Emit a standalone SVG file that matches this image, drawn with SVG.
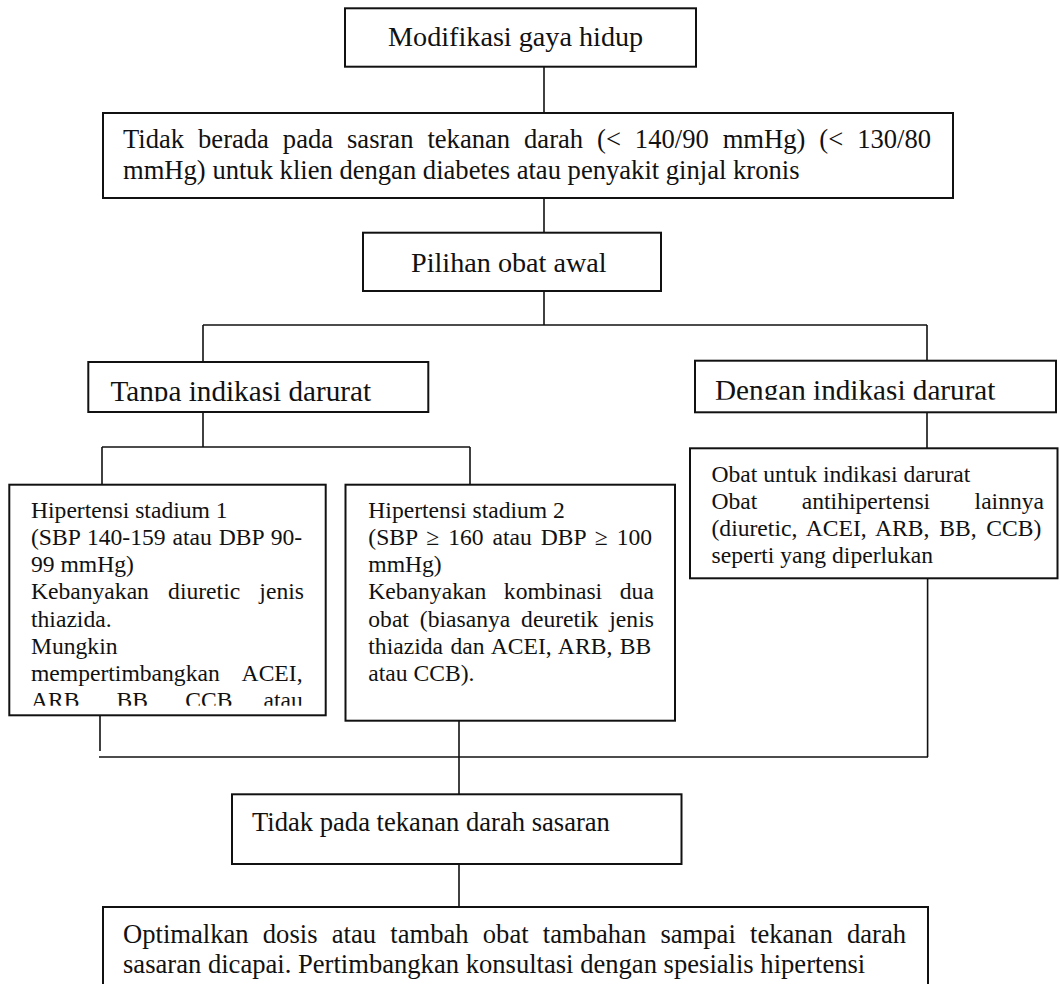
<svg xmlns="http://www.w3.org/2000/svg" width="1060" height="984" viewBox="0 0 1060 984">
<style>
.box{fill:none;stroke:#111;stroke-width:2}
.con{fill:none;stroke:#111;stroke-width:1.6}
text{font-family:"Liberation Serif","Times New Roman",serif;fill:#111}
.big{font-size:28.2px}
.mid{font-size:26.6px}
.hd{font-size:29.2px}
.sm{font-size:23.6px}
</style>
<defs>
<clipPath id="clipTanpa"><rect x="80" y="355" width="360" height="46.5"/></clipPath>
<clipPath id="clipDengan"><rect x="690" y="355" width="370" height="44.8"/></clipPath>
<clipPath id="clipS1"><rect x="0" y="480" width="330" height="225.8"/></clipPath>
</defs>
<rect width="1060" height="984" fill="#ffffff"/>
<g id="connectors">
<path class="con" d="M544 66 V113"/>
<path class="con" d="M544 198 V232.7"/>
<path class="con" d="M544 291 V325"/>
<path class="con" d="M203 325 H927"/>
<path class="con" d="M203 325 V362"/>
<path class="con" d="M927 325 V361"/>
<path class="con" d="M203 412 V447"/>
<path class="con" d="M102 447 H470"/>
<path class="con" d="M102 447 V484.7"/>
<path class="con" d="M470 447 V484.7"/>
<path class="con" d="M927 412.3 V448.3"/>
<path class="con" d="M100 715.3 V751"/>
<path class="con" d="M99 757 H928"/>
<path class="con" d="M927.6 578.3 V757"/>
<path class="con" d="M459 720 V794.3"/>
<path class="con" d="M459 864 V907"/>
</g>
<g id="n1">
<rect class="box" x="345" y="8.3" width="351" height="58.4"/>
<text class="big" x="388" y="46">Modifikasi gaya hidup</text>
</g>
<g id="n2">
<rect class="box" x="103" y="113" width="850" height="85"/>
<text class="mid" x="123" y="148" word-spacing="7.3">Tidak berada pada sasran tekanan darah (&lt; 140/90 mmHg) (&lt; 130/80</text>
<text class="mid" x="123" y="179">mmHg) untuk klien dengan diabetes atau penyakit ginjal kronis</text>
</g>
<g id="n3">
<rect class="box" x="363" y="232.7" width="298" height="58.3"/>
<text class="big" x="411" y="272">Pilihan obat awal</text>
</g>
<g id="n4">
<rect class="box" x="88.3" y="362" width="340" height="50"/>
<text class="hd" x="110.5" y="401" clip-path="url(#clipTanpa)">Tanpa indikasi darurat</text>
</g>
<g id="n5">
<rect class="box" x="695" y="360.7" width="361" height="51.6"/>
<text class="hd" x="715" y="399.5" clip-path="url(#clipDengan)">Dengan indikasi darurat</text>
</g>
<g id="n6">
<rect class="box" x="9.3" y="484.7" width="316.4" height="230.6"/>
<g clip-path="url(#clipS1)">
<text class="sm" x="31" y="517.8">Hipertensi stadium 1</text>
<text class="sm" x="31" y="545" word-spacing="1.05">(SBP 140-159 atau DBP 90-</text>
<text class="sm" x="31" y="572.2">99 mmHg)</text>
<text class="sm" x="31" y="599.4" word-spacing="13.3">Kebanyakan diuretic jenis</text>
<text class="sm" x="31" y="626.6">thiazida.</text>
<text class="sm" x="31" y="653.8">Mungkin</text>
<text class="sm" x="31" y="681" word-spacing="17.3">mempertimbangkan ACEI,</text>
<text class="sm" x="31" y="708.2" word-spacing="25.3">ARB, BB, CCB atau</text>
</g>
</g>
<g id="n7">
<rect class="box" x="345.5" y="484.7" width="329.5" height="236"/>
<text class="sm" x="368.3" y="517.8">Hipertensi stadium 2</text>
<text class="sm" x="368.3" y="545" word-spacing="3.08">(SBP ≥ 160 atau DBP ≥ 100</text>
<text class="sm" x="368.3" y="572.2">mmHg)</text>
<text class="sm" x="368.3" y="599.4" word-spacing="11.75">Kebanyakan kombinasi dua</text>
<text class="sm" x="368.3" y="626.6" word-spacing="5">obat (biasanya deuretik jenis</text>
<text class="sm" x="368.3" y="653.8" word-spacing="1.6">thiazida dan ACEI, ARB, BB</text>
<text class="sm" x="368.3" y="681">atau CCB).</text>
</g>
<g id="n8">
<rect class="box" x="690" y="448.3" width="367.5" height="130"/>
<text class="sm" x="711.5" y="482">Obat untuk indikasi darurat</text>
<text class="sm" x="711.5" y="509" word-spacing="38.5">Obat antihipertensi lainnya</text>
<text class="sm" x="711.5" y="536" word-spacing="3.8">(diuretic, ACEI, ARB, BB, CCB)</text>
<text class="sm" x="711.5" y="563">seperti yang diperlukan</text>
</g>
<g id="n9">
<rect class="box" x="232" y="794.3" width="449.5" height="69.7"/>
<text class="mid" x="252" y="831">Tidak pada tekanan darah sasaran</text>
</g>
<g id="n10">
<rect class="box" x="103" y="907" width="825" height="110"/>
<text class="mid" x="123" y="942.5" word-spacing="7.6">Optimalkan dosis atau tambah obat tambahan sampai tekanan darah</text>
<text class="mid" x="123" y="972.5">sasaran dicapai. Pertimbangkan konsultasi dengan spesialis hipertensi</text>
</g>
</svg>
